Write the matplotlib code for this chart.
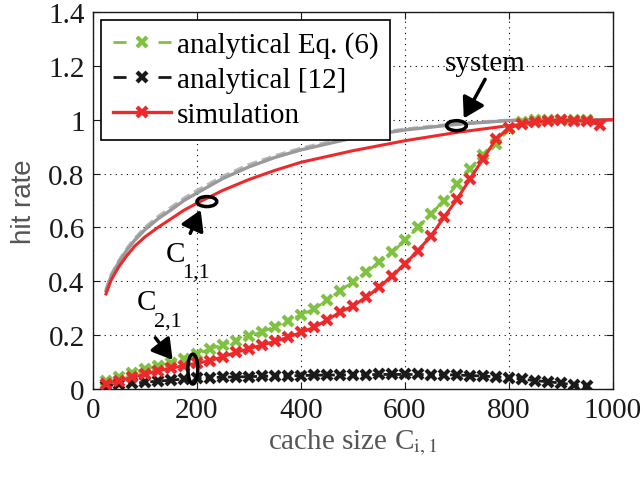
import matplotlib
matplotlib.use("Agg")
import matplotlib.pyplot as plt
from matplotlib.patches import Ellipse
from matplotlib.lines import Line2D

# ---------------- data ----------------
x_marked = [25, 50, 75, 100, 125, 150, 175, 200, 225, 250, 275, 300, 325, 350, 375,
            400, 425, 450, 475, 500, 525, 550, 575, 600, 625, 650, 675, 700, 725,
            750, 775, 800, 825, 850, 875, 900, 925, 950]
x_sim2 = x_marked + [975]

green_eq6 = [0.030, 0.045, 0.060, 0.073, 0.087, 0.098, 0.112, 0.130, 0.149, 0.165,
             0.180, 0.196, 0.212, 0.232, 0.254, 0.275, 0.297, 0.330, 0.365, 0.398,
             0.433, 0.470, 0.507, 0.552, 0.600, 0.650, 0.700, 0.760, 0.818, 0.870,
             0.910, 0.965, 0.990, 0.998, 1.000, 1.000, 1.000, 0.998]

red_sim2 = [0.019, 0.031, 0.043, 0.055, 0.068, 0.077, 0.087, 0.096, 0.105, 0.120,
            0.136, 0.150, 0.163, 0.177, 0.192, 0.210, 0.229, 0.256, 0.285, 0.309,
            0.340, 0.377, 0.420, 0.464, 0.514, 0.569, 0.637, 0.705, 0.780, 0.854,
            0.928, 0.970, 0.985, 0.993, 0.996, 0.998, 0.997, 0.995, 0.980]

black_ref12 = [0.012, 0.017, 0.021, 0.025, 0.029, 0.033, 0.037, 0.040, 0.042, 0.044,
               0.045, 0.046, 0.047, 0.048, 0.049, 0.050, 0.051, 0.052, 0.052, 0.053,
               0.053, 0.054, 0.054, 0.054, 0.054, 0.053, 0.053, 0.052, 0.050, 0.048,
               0.045, 0.042, 0.037, 0.031, 0.027, 0.022, 0.015, 0.010]

x_upper = [25, 35, 50, 65, 80, 100, 125, 150, 175, 200, 250, 300, 350, 400, 500,
           600, 700, 800, 900, 1000]
red_sim1 = [0.353, 0.405, 0.455, 0.495, 0.530, 0.565, 0.600, 0.632, 0.664, 0.690,
            0.738, 0.778, 0.812, 0.842, 0.885, 0.922, 0.953, 0.978, 0.993, 1.000]
gray_solid = [0.365, 0.420, 0.472, 0.515, 0.552, 0.592, 0.632, 0.665, 0.700, 0.728,
              0.782, 0.825, 0.860, 0.888, 0.932, 0.962, 0.983, 0.997, 1.000, 1.000]
gray_dashed = [0.368, 0.424, 0.477, 0.521, 0.558, 0.600, 0.640, 0.674, 0.708, 0.737,
               0.790, 0.833, 0.866, 0.894, 0.937, 0.965, 0.985, 0.998, 1.000, 1.000]

xticks = [0, 200, 400, 600, 800, 1000]
yticks = [0, 0.2, 0.4, 0.6, 0.8, 1.0, 1.2, 1.4]
ytick_labels = ["0", "0.2", "0.4", "0.6", "0.8", "1", "1.2", "1.4"]
legend_labels = ["analytical Eq. (6)", "analytical [12]", "simulation"]

# ---------------- style ----------------
plt.rcParams["font.family"] = ["Liberation Serif", "DejaVu Serif"]
plt.rcParams["mathtext.fontset"] = "stix"
FS = 21
GREEN = "#7fc241"
RED = "#ec2a2c"
BLACK = "#1a1a1a"
GRAY = "#9a9a9a"
LGRAY = "#b8b8b8"

fig = plt.figure(figsize=(6.44, 4.81), dpi=100)
ax = fig.add_axes([93 / 644, 1 - 390 / 481, 520 / 644, 377 / 481])

# upper curves (C1,1)
ax.plot(x_upper, gray_dashed, color=LGRAY, lw=2.4, ls=(0, (3, 1.5)), zorder=3)
ax.plot(x_upper, gray_solid, color=GRAY, lw=2.4, zorder=3)
ax.plot(x_upper, red_sim1, color=RED, lw=2.2, zorder=4)

mk = dict(marker="x", markersize=6.5, markeredgewidth=3.0)
ax.plot(x_marked, green_eq6, color=GREEN, lw=2.0, ls=(0, (2.5, 1.5)), zorder=5, **mk)
ax.plot(x_marked, black_ref12, color=BLACK, lw=2.0, ls=(0, (2.5, 1.5)), zorder=5, **mk)
ax.plot(x_sim2, red_sim2, color=RED, lw=2.2, zorder=6, **mk)

ax.set_xlim(0, 1000)
ax.set_ylim(0, 1.4)
ax.set_xticks(xticks)
ax.set_yticks(yticks)
ax.set_yticklabels(ytick_labels)
ax.tick_params(direction="in", length=5, width=0.8, top=True, right=True,
               labelsize=FS, pad=6, colors=BLACK)
ax.grid(True, color="black", ls=(0, (1, 4)), lw=0.8)
for s in ax.spines.values():
    s.set_linewidth(1.0)
    s.set_color(BLACK)

ax.set_xlabel(r"cache size C$_{\mathrm{i,1}}$", fontsize=FS, color="#555555", labelpad=2)
ax.set_ylabel("hit rate", fontsize=20, color="#555555",
              family=["Liberation Sans", "DejaVu Sans"], labelpad=8)

# legend proxies (dash - marker - dash look)
lg_dash = (0, (4.7, 11.5))
h_green = Line2D([], [], color=GREEN, lw=2.0, ls=lg_dash, **mk)
h_black = Line2D([], [], color=BLACK, lw=2.0, ls=lg_dash, **mk)
h_red = Line2D([], [], color=RED, lw=2.4, **mk)
leg = ax.legend([h_green, h_black, h_red], legend_labels, loc="upper left",
                bbox_to_anchor=(0.0155, 0.98), fontsize=FS, frameon=True,
                fancybox=False, edgecolor="black", framealpha=1, handlelength=2.0,
                handletextpad=0.2, labelspacing=0.3, borderpad=0.4,
                borderaxespad=0, numpoints=1)
leg.get_frame().set_linewidth(1.2)
leg.set_zorder(10)

# annotations
ell_kw = dict(fill=False, edgecolor="black", lw=2.5, zorder=8)
ax.add_patch(Ellipse((699, 0.978), 38, 0.037, **ell_kw))
ax.add_patch(Ellipse((219, 0.696), 38, 0.037, **ell_kw))
ax.add_patch(Ellipse((192, 0.074), 19, 0.111, **ell_kw))

arr = dict(arrowstyle="-|>,head_length=0.5,head_width=0.3", lw=2.5, color="black",
           mutation_scale=24, shrinkA=0, shrinkB=0)
ax.annotate("", xy=(713, 1.005), xytext=(754, 1.15), arrowprops=arr, zorder=9)
ax.annotate("", xy=(207, 0.665), xytext=(187, 0.578), arrowprops=arr, zorder=9)
ax.annotate("", xy=(153, 0.108), xytext=(120, 0.19), arrowprops=arr, zorder=9)

ax.text(754, 1.21, "system", fontsize=FS, ha="center", va="center", zorder=9)
ax.text(158, 0.50, "C", fontsize=FS, ha="center", va="center", zorder=9)
ax.text(172, 0.435, "1,1", fontsize=16, ha="left", va="center", zorder=9)
ax.text(103, 0.322, "C", fontsize=FS, ha="center", va="center", zorder=9)
ax.text(117, 0.252, "2,1", fontsize=16, ha="left", va="center", zorder=9)

fig.savefig("out.png", dpi=100)
